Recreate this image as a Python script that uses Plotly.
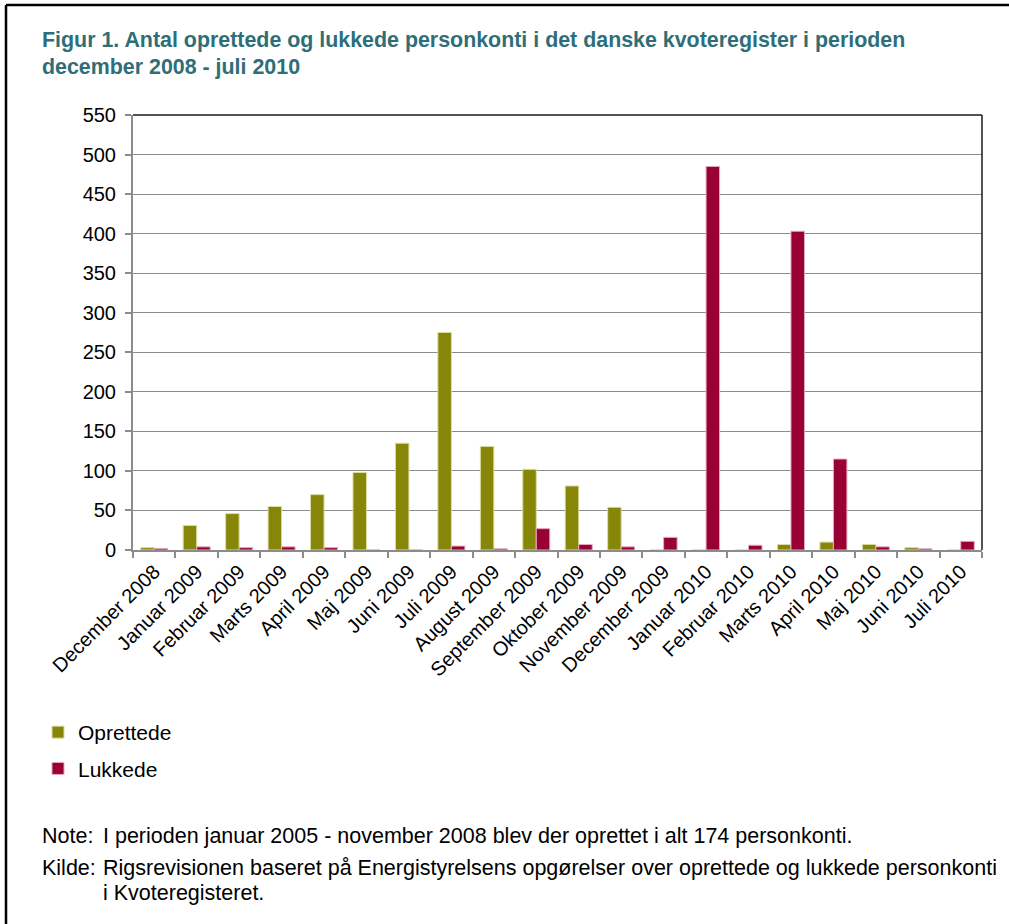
import plotly.graph_objects as go

categories = ["December 2008", "Januar 2009", "Februar 2009", "Marts 2009", "April 2009",
              "Maj 2009", "Juni 2009", "Juli 2009", "August 2009", "September 2009",
              "Oktober 2009", "November 2009", "December 2009", "Januar 2010", "Februar 2010",
              "Marts 2010", "April 2010", "Maj 2010", "Juni 2010", "Juli 2010"]
oprettede = [3, 31, 46, 55, 70, 98, 135, 275, 131, 102, 81, 54, 0, 0, 0, 7, 10, 7, 3, 0]
lukkede = [2, 4, 3, 4, 3, 0, 0, 5, 1.5, 27, 7, 4, 16, 485, 6, 403, 115, 4, 1.5, 11]
y_ticks = [0, 50, 100, 150, 200, 250, 300, 350, 400, 450, 500, 550]

FONT = "Liberation Sans, Arial, sans-serif"

# layout geometry (pixels)
W, H = 1009, 924
L, R, T, B = 133, 982, 115, 550
pw, ph = R - L, B - T

def px(x):
    return (x - L) / pw

def py(y):
    return (B - y) / ph

fig = go.Figure()
fig.add_trace(go.Bar(x=categories, y=oprettede, name="Oprettede",
                     marker=dict(color="#868609", line=dict(color="#DCDCA0", width=1)),
                     legendgroup="a"))
fig.add_trace(go.Bar(x=categories, y=lukkede, name="Lukkede",
                     marker=dict(color="#990033", line=dict(color="#E8A8BC", width=1)),
                     legendgroup="b"))

fig.update_layout(
    width=W, height=H,
    margin=dict(l=L, r=W - R, t=T, b=H - B, autoexpand=False),
    paper_bgcolor="white", plot_bgcolor="white",
    barmode="group", bargap=0.364, bargroupgap=0,
    font=dict(family=FONT, size=20, color="black"),
    showlegend=True,
    legend=dict(x=px(38), y=py(712), xanchor="left", yanchor="top",
                orientation="v", traceorder="grouped", tracegroupgap=6,
                font=dict(family=FONT, size=21, color="black"),
                bgcolor="rgba(0,0,0,0)"),
    xaxis=dict(type="category", tickangle=-45, showgrid=False,
               showline=True, linecolor="#8C8C8C", linewidth=2,
               ticks="outside", tickson="boundaries", ticklen=6, tickcolor="#8C8C8C", tickwidth=2,
               tickfont=dict(family=FONT, size=20, color="black")),
    yaxis=dict(range=[0, 550], tickvals=y_ticks, showgrid=True, gridcolor="#8C8C8C", gridwidth=1,
               showline=True, linecolor="#8C8C8C", linewidth=2,
               ticks="outside", ticklen=6, tickcolor="#8C8C8C", tickwidth=2,
               ticklabelstandoff=5,
               tickfont=dict(family=FONT, size=20, color="black"), zeroline=False),
)

# plot-area top and right border
fig.add_shape(type="line", xref="paper", yref="paper", x0=0, x1=1, y0=1, y1=1,
              line=dict(color="#1a1a1a", width=1.5))
fig.add_shape(type="line", xref="paper", yref="paper", x0=1, x1=1, y0=0, y1=1,
              line=dict(color="#1a1a1a", width=1.5))
# outer frame (left and top)
fig.add_shape(type="line", xref="paper", yref="paper", x0=px(6), x1=px(1015), y0=py(5), y1=py(5),
              line=dict(color="black", width=2.5))
fig.add_shape(type="line", xref="paper", yref="paper", x0=px(6), x1=px(6), y0=py(5), y1=py(930),
              line=dict(color="black", width=2.5))

title_color = "#2E6E78"
fig.add_annotation(xref="paper", yref="paper", x=px(40), y=py(40), xanchor="left", yanchor="middle",
                   showarrow=False, align="left",
                   text="<b>Figur 1. Antal oprettede og lukkede personkonti i det danske kvoteregister i perioden</b>",
                   font=dict(family=FONT, size=21.4, color=title_color))
fig.add_annotation(xref="paper", yref="paper", x=px(40), y=py(67), xanchor="left", yanchor="middle",
                   showarrow=False, align="left",
                   text="<b>december 2008 - juli 2010</b>",
                   font=dict(family=FONT, size=21.4, color=title_color))

note_font = dict(family=FONT, size=21.5, color="black")
for label, txt, yy in [("Note:", "I perioden januar 2005 - november 2008 blev der oprettet i alt 174 personkonti.", 836),
                       ("Kilde:", "Rigsrevisionen baseret på Energistyrelsens opgørelser over oprettede og lukkede personkonti", 868),
                       ("", "i Kvoteregisteret.", 893)]:
    if label:
        fig.add_annotation(xref="paper", yref="paper", x=px(40), y=py(yy), xanchor="left", yanchor="middle",
                           showarrow=False, text=label, font=note_font)
    fig.add_annotation(xref="paper", yref="paper", x=px(101), y=py(yy), xanchor="left", yanchor="middle",
                       showarrow=False, text=txt, font=note_font)

fig.write_html("out.html", config={"displayModeBar": False},
               post_script="document.body.style.margin='0';document.body.style.overflow='hidden';")
